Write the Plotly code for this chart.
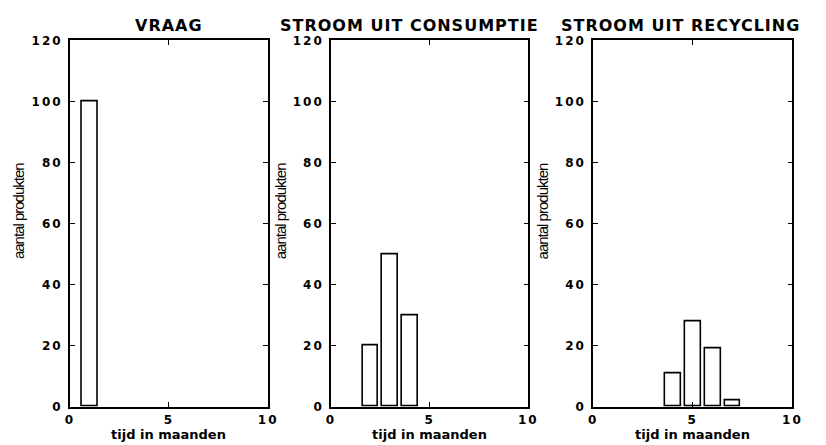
import plotly.graph_objects as go

# Monthly product flows (time in months, number of products)
titles = ["VRAAG", "STROOM UIT CONSUMPTIE", "STROOM UIT RECYCLING"]

vraag_months = [1]
vraag_values = [100]

consumptie_months = [2, 3, 4]
consumptie_values = [20, 50, 30]

recycling_months = [4, 5, 6, 7]
recycling_values = [11, 28, 19, 2]

x_ticks = [0, 5, 10]
y_ticks = [0, 20, 40, 60, 80, 100, 120]

x_label = "tijd in maanden"
y_label = "aantal produkten"

series = [
    (vraag_months, vraag_values),
    (consumptie_months, consumptie_values),
    (recycling_months, recycling_values),
]

W, H = 826, 445
x_domains = [(66 / W, 268 / W), (332 / W, 533 / W), (599 / W, 802 / W)]
y_domain = (1 - 412.5 / H, 1 - 34.5 / H)
# horizontal centres of the panel titles (pixels)
title_centres = [167, 412, 688]

WIDE = "DejaVu Sans, Verdana, sans-serif"
PLAIN = "Liberation Sans, Arial, sans-serif"


def spaced(text, px):
    return '<span style="letter-spacing:%gpx">%s</span>' % (px, text)


tick_font = dict(family=WIDE, size=12, color="black", weight="bold")
x_ticktext = [spaced(str(v), 2) for v in x_ticks]
y_ticktext = [spaced(str(v), 2) for v in y_ticks]

fig = go.Figure()
annotations = []
for i, (months, values) in enumerate(series):
    n = "" if i == 0 else str(i + 1)
    fig.add_trace(go.Bar(
        x=months, y=values, width=0.8,
        marker=dict(color="white", line=dict(color="black", width=1.6)),
        xaxis="x" + n, yaxis="y" + n, showlegend=False,
    ))
    axis_common = dict(
        showline=True, linecolor="black", linewidth=1.6, mirror="ticks",
        ticks="inside", ticklen=5, tickwidth=1.2, tickcolor="black",
        showgrid=False, zeroline=False, tickfont=tick_font,
    )
    fig.update_layout({
        "xaxis" + n: dict(domain=x_domains[i], range=[0, 10], tickvals=x_ticks,
                          ticktext=x_ticktext, anchor="y" + n,
                          ticklabelstandoff=1, **axis_common),
        "yaxis" + n: dict(domain=y_domain, range=[0, 120], tickvals=y_ticks,
                          ticktext=y_ticktext, anchor="x" + n,
                          ticklabelstandoff=3, **axis_common),
    })
    cx = (x_domains[i][0] + x_domains[i][1]) / 2
    annotations.append(dict(
        text=spaced(titles[i], 1),
        x=title_centres[i] / W, y=1 - 19 / H, xref="paper", yref="paper",
        showarrow=False, xanchor="center", yanchor="middle",
        font=dict(family=WIDE, size=16, color="black", weight="bold"),
    ))
    annotations.append(dict(
        text=x_label, x=cx, y=0, xref="paper", yref="paper",
        showarrow=False, xanchor="center", yanchor="bottom", borderpad=0,
        yshift=-5,
        font=dict(family=WIDE, size=13, color="black", weight="bold"),
    ))
    annotations.append(dict(
        text=spaced(y_label, -1), x=(x_domains[i][0] * W - 52) / W, y=1 - 211 / H,
        xref="paper", yref="paper", showarrow=False, textangle=-90,
        xanchor="center", yanchor="middle",
        font=dict(family=PLAIN, size=15, color="black"),
    ))

fig.update_layout(
    width=W, height=H, margin=dict(l=0, r=0, t=0, b=0),
    paper_bgcolor="white", plot_bgcolor="white",
    annotations=annotations, bargap=0,
)

fig.write_html("out.html")
